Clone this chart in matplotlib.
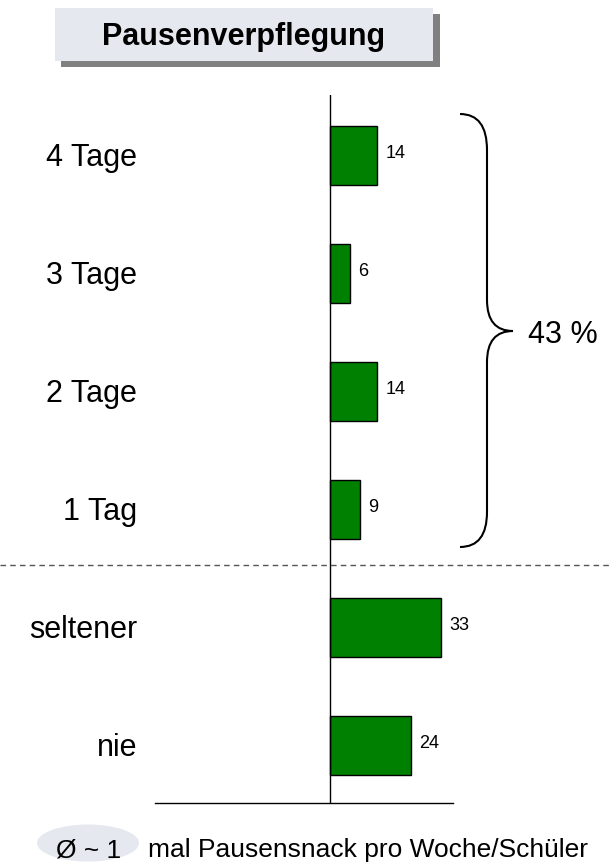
import matplotlib
matplotlib.use("Agg")
import matplotlib.pyplot as plt
import matplotlib.transforms as mtransforms
from matplotlib.path import Path
from matplotlib.patches import PathPatch, Rectangle, Ellipse
from matplotlib.lines import Line2D

plt.rcParams['font.family'] = ['Liberation Sans', 'DejaVu Sans']

# data
categories = ['4 Tage', '3 Tage', '2 Tage', '1 Tag', 'seltener', 'nie']
values = [14, 6, 14, 9, 33, 24]
title = 'Pausenverpflegung'
group_label = '43 %'
avg_label = 'Ø ~ 1'
avg_text = 'mal Pausensnack pro Woche/Schüler'

W, H = 610, 863
fig = plt.figure(figsize=(W / 100, H / 100), dpi=100)
# pixel coords (origin top-left) -> figure
px = mtransforms.Affine2D().scale(1 / W, -1 / H).translate(0, 1) + fig.transFigure

ax = fig.add_axes([155 / W, (H - 803) / H, 298 / W, 708 / H])
ypos = list(range(len(categories) - 1, -1, -1))
ax.barh(ypos, values, height=0.5, color='#008000', edgecolor='black', linewidth=1)
ax.set_xlim(-52.1, 36.6)
ax.set_ylim(-0.49, 5.51)
ax.axvline(0, color='black', lw=1)
for s in ['top', 'right', 'left']:
    ax.spines[s].set_visible(False)
ax.spines['bottom'].set_linewidth(1)
ax.set_xticks([])
ax.set_yticks([])

ytr = ax.get_yaxis_transform()
for y, cat, v in zip(ypos, categories, values):
    ax.text(-18 / 298, y - 0.093, cat, transform=ytr, ha='right', va='baseline', fontsize=22)
    ax.text(v + 2.4, y - 0.025, str(v), ha='left', va='baseline', fontsize=13)

# dashed separator
fig.add_artist(Line2D([0, W], [565, 565], transform=px, color='#555555', lw=1,
                      linestyle=(0, (4, 3))))

# brace
verts = [(460, 114), (487, 114), (487, 150),
         (487, 300),
         (487, 331), (513, 331),
         (487, 331), (487, 362),
         (487, 512),
         (487, 547), (460, 547)]
codes = [Path.MOVETO, Path.CURVE3, Path.CURVE3,
         Path.LINETO,
         Path.CURVE3, Path.CURVE3,
         Path.CURVE3, Path.CURVE3,
         Path.LINETO,
         Path.CURVE3, Path.CURVE3]
fig.add_artist(PathPatch(Path(verts, codes), transform=px, fill=False, lw=1.5, edgecolor='black'))
fig.text(528, 343, group_label, transform=px, ha='left', va='baseline', fontsize=22)

# title box with shadow
fig.add_artist(Rectangle((61, 67), 379, -53, transform=px, facecolor='#808080', edgecolor='none'))
fig.add_artist(Rectangle((55, 61), 378, -53, transform=px, facecolor='#E6E8F0', edgecolor='none'))
fig.text(244, 45, title, transform=px, ha='center', va='baseline', fontsize=22, fontweight='bold')

# bottom note
fig.add_artist(Ellipse((88, 843), 102, 37, transform=px, facecolor='#E6E8F0', edgecolor='none'))
fig.text(89, 857, avg_label, transform=px, ha='center', va='baseline', fontsize=19)
fig.text(148, 857, avg_text, transform=px, ha='left', va='baseline', fontsize=19)

fig.savefig('out.png', dpi=100)
